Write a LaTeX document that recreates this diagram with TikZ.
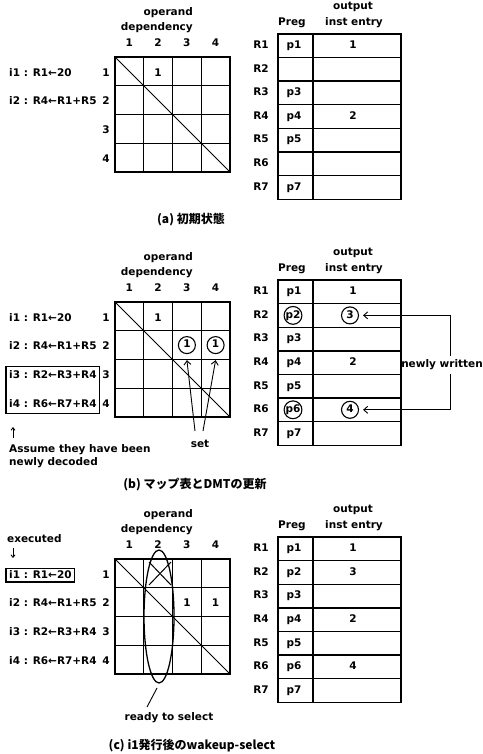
\documentclass[tikz,border=0pt]{standalone}
\usepackage{fontspec}
\setmainfont{DejaVu Sans}
\newfontfamily\cjk{Noto Sans CJK JP}
\usetikzlibrary{arrows.meta,shapes.geometric,fit}
\tikzset{
 txt/.style={inner sep=0pt, font=\bfseries\fontsize{10.5}{12}\selectfont, text height=7.8pt, text depth=2.2pt},
 capt/.style={inner sep=0pt, font=\cjk\bfseries\fontsize{12}{14}\selectfont},
 gridl/.style={line width=1.4pt},
 diagl/.style={line width=1pt},
 ring/.style={draw, circle, line width=1.1pt, inner sep=0pt, minimum size=17pt},
 barb/.style={line width=0.9pt, -{Straight Barb[length=4pt,width=7pt]}},
 boxed/.style={draw, line width=1.2pt, inner ysep=1.5pt, inner xsep=3pt},
 thinl/.style={line width=0.9pt},
}
\newcommand\dmt[1]{%
 \draw[gridl] (115,57) rectangle (230,172);
 \foreach \k in {1,2,3}{%
   \draw[gridl] (115+\k*28.75,57) -- (115+\k*28.75,172);
   \draw[gridl] (115,57+\k*28.75) -- (230,57+\k*28.75);
 }%
 \draw[diagl] (115,57) -- (230,172);
 \node[txt,anchor=east] (#1op) at (193,13) {operand};
 \node[txt,anchor=east] (#1dep) at (193,28) {dependency};
 \foreach \k in {1,...,4}{%
   \node[txt] (#1c\k) at (100.625+\k*28.75,44) {\k};
   \node[txt] (#1r\k) at (106,44.625+\k*28.75) {\k};
 }%
}
\newcommand\ptab[1]{%
 \draw[gridl] (278,34) rectangle (401,199.2);
 \draw[gridl] (313,34) -- (313,199.2);
 \foreach \k in {1,...,6} \draw[gridl] (278,34+\k*23.6) -- (401,34+\k*23.6);
 \node[txt] (#1preg) at (292,23) {Preg};
 \node[txt] (#1out) at (353,7) {output};
 \node[txt] (#1inst) at (354,23) {inst entry};
 \foreach \k in {1,...,7} \node[txt] (#1R\k) at (261,22.2+\k*23.6) {R\k};
}
\newcommand\pv[4]{\node[txt] (#1) at (#2,22.2+#3*23.6) {#4};}
\newcommand\ins[3]{\node[txt,anchor=west] (#1) at (9,44.625+#2*28.75) {#3};}
\begin{document}
\begin{tikzpicture}[x=1pt,y=-1pt]
\useasboundingbox (0,0) rectangle (482,754);
\fill[white] (0,0) rectangle (482,754);

% ---------------- panel (a)
\begin{scope}
 \dmt{a}
 \ins{ai1}{1}{i1 : R1←20}
 \ins{ai2}{2}{i2 : R4←R1+R5}
 \node[txt] (a12) at (158.1,73.4) {1};
 \ptab{a}
 \pv{ap1}{294}{1}{p1}
 \pv{ap3}{294}{3}{p3}
 \pv{ap4}{294}{4}{p4}
 \pv{ap5}{294}{5}{p5}
 \pv{ap7}{294}{7}{p7}
 \pv{ae1}{353}{1}{1}
 \pv{ae4}{353}{4}{2}
\end{scope}
\node[capt] (capa) at (191,220) {(a) 初期状態};

% ---------------- panel (b)
\begin{scope}[shift={(0,245)}]
 \dmt{b}
 \ins{bi1}{1}{i1 : R1←20}
 \ins{bi2}{2}{i2 : R4←R1+R5}
 \ins{bi3}{3}{i3 : R2←R3+R4}
 \ins{bi4}{4}{i4 : R6←R7+R4}
 \node[txt] (b12) at (158.1,73.4) {1};
 \node[txt,ring] (bx1) at (186.9,100.1) {1};
 \node[txt,ring] (bx2) at (215.6,100.1) {1};
 \node[boxed, fit=(bi3)(bi4), inner ysep=4pt] (bbox) {};
 \coordinate (bup1) at (13,193);
 \coordinate (bup2) at (13,182);
 \draw[thinl,-{Straight Barb[length=2.5pt,width=4pt]}] (bup1) -- (bup2);
 \node[txt,anchor=west] (bas1) at (9,205) {Assume they have been};
 \node[txt,anchor=west] (bas2) at (9,218) {newly decoded};
 \node[txt] (bset) at (200,200) {set};
 \coordinate (bs1) at (195,186);
 \coordinate (bs2) at (203,186);
 \draw[barb] (bs1) -- ([yshift=-6pt]bx1.south);
 \draw[barb] (bs2) -- ([yshift=-6pt]bx2.south);
\end{scope}
\begin{scope}[shift={(0,246)}]
 \ptab{b}
 \pv{bp1}{294}{1}{p1}
 \node[txt,ring] (bp2) at (293,69.4) {p2};
 \pv{bp3}{294}{3}{p3}
 \pv{bp4}{294}{4}{p4}
 \pv{bp5}{294}{5}{p5}
 \node[txt,ring] (bp6) at (293,163.8) {p6};
 \pv{bp7}{294}{7}{p7}
 \pv{be1}{353}{1}{1}
 \node[txt,ring] (be2) at (350,69.4) {3};
 \pv{be4}{353}{4}{2}
 \node[txt,ring] (be6) at (350,163.8) {4};
 \node[txt] (bnw) at (442,119) {newly written};
 \coordinate (bnwA) at (450,69.4);
 \coordinate (bnwB) at (450,163.8);
 \path (bnw.north -| bnwA) ++(0,-4) coordinate (bnwT);
 \path (bnw.south -| bnwB) ++(0,4) coordinate (bnwU);
 \draw[barb] (bnwT) -- (bnwA) -- ([xshift=4pt]be2.east);
 \draw[barb] (bnwU) -- (bnwB) -- ([xshift=4pt]be6.east);
\end{scope}
\node[capt] (capb) at (195,485) {(b) マップ表とDMTの更新};

% ---------------- panel (c)
\begin{scope}[shift={(0,502)}]
 \dmt{c}
 \node[txt,anchor=west] (cex) at (7,38) {executed};
 \coordinate (cdn1) at (13,46);
 \coordinate (cdn2) at (13,56);
 \draw[thinl,-{Straight Barb[length=2.5pt,width=4pt]}] (cdn1) -- (cdn2);
 \ins{ci1}{1}{i1 : R1←20}
 \ins{ci2}{2}{i2 : R4←R1+R5}
 \ins{ci3}{3}{i3 : R2←R3+R4}
 \ins{ci4}{4}{i4 : R6←R7+R4}
 \node[boxed, fit=(ci1)] (cbox) {};
 \draw[diagl] (149,60) -- (171,83);
 \draw[diagl] (171,60) -- (149,83);
 \node[txt] (c23) at (186.9,102.1) {1};
 \node[txt] (c24) at (215.6,102.1) {1};
 \node[draw, ellipse, line width=1.3pt, inner sep=0pt, minimum width=30pt, minimum height=133pt] (csel) at (159,114.5) {};
 \coordinate (crA) at (157,186);
 \coordinate (crB) at (147,205);
 \draw[thinl] (crA) -- (crB);
 \node[txt] (crdy) at (169,216) {ready to select};
\end{scope}
\begin{scope}[shift={(0,503)}]
 \ptab{c}
 \pv{cp1}{294}{1}{p1}
 \pv{cp2}{294}{2}{p2}
 \pv{cp3}{294}{3}{p3}
 \pv{cp4}{294}{4}{p4}
 \pv{cp5}{294}{5}{p5}
 \pv{cp6}{294}{6}{p6}
 \pv{cp7}{294}{7}{p7}
 \pv{ce1}{353}{1}{1}
 \pv{ce2}{353}{2}{3}
 \pv{ce4}{353}{4}{2}
 \pv{ce6}{353}{6}{4}
\end{scope}
\node[capt] (capc) at (192,746) {(c) i1発行後のwakeup-select};
\end{tikzpicture}
\end{document}
